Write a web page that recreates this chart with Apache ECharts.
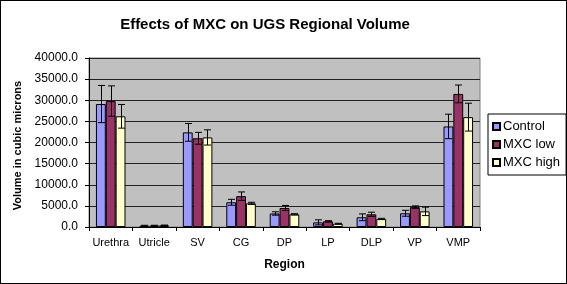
<!DOCTYPE html>
<html><head><meta charset="utf-8">
<script src="https://cdn.jsdelivr.net/npm/echarts@6/dist/echarts.min.js"></script>
<style>html,body{margin:0;padding:0;background:#fff}#wrap{position:relative;width:567px;height:284px}#c{width:567px;height:284px}#b{position:absolute;left:0;top:0;width:567px;height:284px;box-sizing:border-box;border:1px solid #000;pointer-events:none}</style>
</head><body><div id="wrap"><div id="c"></div><div id="b"></div></div>
<script>
var categories = ['Urethra','Utricle','SV','CG','DP','LP','DLP','VP','VMP'];
var seriesNames = ['Control','MXC low','MXC high'];
var control = [29100, 300, 22400, 5850, 3200, 1100, 2300, 3250, 23800];
var mxcLow  = [29800, 330, 21000, 7300, 4500, 1350, 3000, 4700, 31500];
var mxcHigh = [26200, 400, 21200, 5600, 3000, 780, 1900, 3700, 26000];
var controlErr = [4400, 100, 2100, 700, 400, 600, 800, 700, 2900];
var mxcLowErr  = [3600, 80, 1400, 1000, 600, 150, 500, 300, 2100];
var mxcHighErr = [2800, 60, 1800, 250, 150, 100, 150, 1000, 3300];
var yTicks = {min: 0, max: 40000, interval: 5000};
var colors = ['#9999FF','#993366','#FFFFCC'];

var values = [control, mxcLow, mxcHigh];
var errs = [controlErr, mxcLowErr, mxcHighErr];
var catGap = 0.32;
var FONT = 'Liberation Sans, Arial';

var chart = echarts.init(document.getElementById('c'));
var series = [];
values.forEach(function(v, i){
  series.push({
    name: seriesNames[i], type: 'bar', data: v, barGap: '0%', barCategoryGap: '32%',
    itemStyle: {color: colors[i], borderColor: '#000', borderWidth: 1},
    emphasis: {disabled: true}, z: 2
  });
});
values.forEach(function(v, i){
  var d = v.map(function(val, k){ return [k, val - errs[i][k], val + errs[i][k]]; });
  series.push({
    type: 'custom', name: 'err' + i, data: d, z: 5,
    renderItem: function(params, api){
      var k = api.value(0);
      var lo = api.coord([k, api.value(1)]);
      var hi = api.coord([k, api.value(2)]);
      var band = api.size([1, 0])[0];
      var bw = band * (1 - catGap) / 3;
      var x = Math.round(lo[0] + (i - 1) * bw) + 0.5;
      var cap = 3.5;
      var st = {stroke: '#000', lineWidth: 1};
      return {type: 'group', children: [
        {type: 'line', shape: {x1: x, y1: lo[1], x2: x, y2: hi[1]}, style: st},
        {type: 'line', shape: {x1: x - cap, y1: hi[1], x2: x + cap, y2: hi[1]}, style: st},
        {type: 'line', shape: {x1: x - cap, y1: lo[1], x2: x + cap, y2: lo[1]}, style: st}
      ]};
    },
    encode: {x: 0, y: [1, 2]}, silent: true
  });
});

chart.setOption({
  animation: false,
  backgroundColor: '#fff',
  title: {text: 'Effects of MXC on UGS Regional Volume', left: 260, textAlign: 'center', top: 12,
    textStyle: {fontFamily: FONT, fontSize: 15, fontWeight: 'bold', color: '#000'}},
  legend: {data: seriesNames, orient: 'vertical', left: 488, top: 114, width: 72,
    itemWidth: 7, itemHeight: 7, itemGap: 5, padding: [6, 6, 6, 4], icon: 'rect',
    borderColor: '#000', borderWidth: 1,
    textStyle: {fontFamily: FONT, fontSize: 13, color: '#000', padding: [0, 0, 0, -2]}},
  grid: {left: 89, right: 87, top: 58, bottom: 57, show: true, backgroundColor: '#C0C0C0', borderColor: '#808080', borderWidth: 1},
  xAxis: {type: 'category', data: categories,
    name: 'Region', nameLocation: 'middle', nameGap: 32,
    nameTextStyle: {fontFamily: FONT, fontSize: 12, fontWeight: 'bold', color: '#000'},
    axisLine: {lineStyle: {color: '#000'}},
    axisTick: {show: true, length: 4, lineStyle: {color: '#000'}},
    axisLabel: {fontFamily: FONT, fontSize: 11, color: '#000', margin: 10, interval: 0}},
  yAxis: {type: 'value', min: yTicks.min, max: yTicks.max, interval: yTicks.interval,
    name: 'Volume in cubic microns', nameLocation: 'middle', nameGap: 62,
    nameTextStyle: {fontFamily: FONT, fontSize: 11, fontWeight: 'bold', color: '#000', padding: [0, 0, 0, -6]},
    axisLine: {show: true, lineStyle: {color: '#000'}},
    axisTick: {show: true, length: 4, lineStyle: {color: '#000'}},
    splitLine: {lineStyle: {color: '#222', width: 1}},
    axisLabel: {fontFamily: FONT, fontSize: 12, color: '#000', margin: 11,
      formatter: function(v){ return v.toFixed(1); }}},
  series: series
});
</script></body></html>
